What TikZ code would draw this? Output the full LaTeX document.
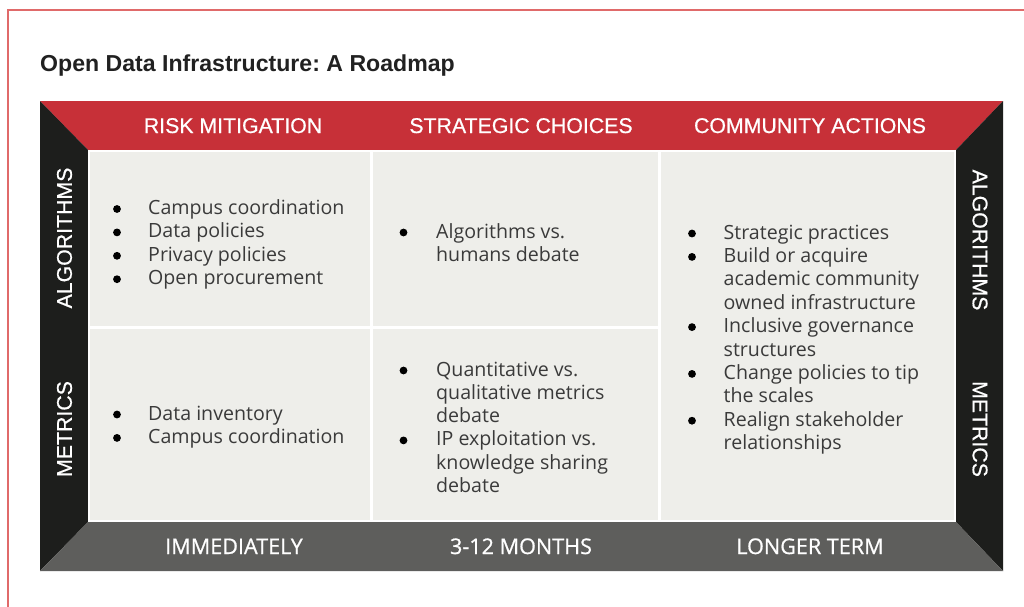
\documentclass[tikz,border=0pt]{standalone}
\usepackage{fontspec}
\setmainfont{Open Sans}
\newfontfamily\hdrfam[FakeBold=0.6]{Liberation Sans}
\newfontfamily\titlefam{Liberation Sans}
\newfontfamily\footfam[FakeBold=0.8]{Open Sans}
\newfontfamily\bodyfam{Open Sans}
\newcommand\mytitlefont{\titlefam\bfseries\fontsize{23.1}{26}\selectfont}
\newcommand\myhdrfont{\hdrfam\fontsize{21.3}{24}\selectfont}
\newcommand\myfootfont{\footfam\fontsize{21.6}{24}\selectfont}
\newcommand\mybodyfont{\bodyfam\fontsize{19.6}{23.4}\selectfont}
\frenchspacing
\definecolor{hdrred}{HTML}{C73038}
\definecolor{sideblack}{HTML}{1D1E1C}
\definecolor{footgray}{HTML}{5E5E5C}
\definecolor{cellgray}{HTML}{EEEEEA}
\definecolor{borderred}{HTML}{E06A6A}
\definecolor{bodygray}{HTML}{3A3A3A}
\definecolor{titleblack}{HTML}{212121}
\tikzset{
  titletext/.style={font=\mytitlefont, text=titleblack, inner sep=0pt, anchor=base west},
  hdr/.style={font=\myhdrfont, text=white, inner sep=0pt},
  foot/.style={font=\myfootfont, text=white, inner sep=0pt, anchor=base},
  body/.style={font=\mybodyfont, text=bodygray, inner sep=0pt, anchor=base west},
  dot/.style={circle, fill=black, minimum size=7.8pt, inner sep=0pt},
  cellbox/.style={fill=cellgray},
}
\begin{document}
\begin{tikzpicture}[x=1pt,y=-1pt]
\useasboundingbox (0,0) rectangle (1024,606);
\fill[white] (0,0) rectangle (1024,606);
\draw[line width=2pt, draw=borderred] (8,10) rectangle (1040,630);
\node[titletext] (title) at (40,71) {Open Data Infrastructure: A Roadmap};
% frame
\fill[hdrred] (40,101) -- (1003,101) -- (956,150) -- (88,150) -- cycle;
\fill[sideblack] (40,101) -- (88,150) -- (88,522) -- (40,571) -- cycle;
\fill[sideblack] (1003,101) -- (956,150) -- (956,522) -- (1003,571) -- cycle;
\fill[footgray] (88,522) -- (956,522) -- (1003,571) -- (40,571) -- cycle;
\fill[white] (88,150) rectangle (956,522);
\fill[cellbox] (90,152) rectangle (370,325.5);
\fill[cellbox] (373,152) rectangle (658,325.5);
\fill[cellbox] (90,328.5) rectangle (370,520);
\fill[cellbox] (373,328.5) rectangle (658,520);
\fill[cellbox] (661,152) rectangle (954,520);
% headers
\node[hdr, anchor=base] (h1) at (233,133) {RISK MITIGATION};
\node[hdr, anchor=base] (h2) at (521,133) {STRATEGIC CHOICES};
\node[hdr, anchor=base] (h3) at (810,133) {COMMUNITY ACTIONS};
\node[foot] (f1) at (234,554) {IMMEDIATELY};
\node[foot] (f2) at (521,554) {3-12 MONTHS};
\node[foot] (f3) at (810,554) {LONGER TERM};
\node[hdr, rotate=90] (l1) at (64.5,238) {ALGORITHMS};
\node[hdr, rotate=90] (l2) at (64.5,429) {METRICS};
\node[hdr, rotate=-90] (r1) at (980,240) {ALGORITHMS};
\node[hdr, rotate=-90] (r2) at (980,429) {METRICS};
% cell 1
\foreach \t [count=\i] in {Campus coordination, Data policies, Privacy policies, Open procurement}{
  \node[body] (a\i) at (148,{214.5+(\i-1)*23.4}) {\t};
  \node[dot] (ab\i) at (117,{209+(\i-1)*23.4}) {};
}
% cell 2
\node[body] (b1) at (436,238) {Algorithms vs.};
\node[body] (b2) at (436,261.4) {humans debate};
\node[dot] (bb1) at (403.5,232.5) {};
% cell 3
\node[body] (c1) at (148,420) {Data inventory};
\node[body] (c2) at (148,443.4) {Campus coordination};
\node[dot] (cb1) at (117,414.5) {};
\node[dot] (cb2) at (117,437.9) {};
% cell 4
\foreach \t [count=\i] in {Quantitative vs., qualitative metrics, debate, IP exploitation vs., knowledge sharing, debate}{
  \node[body] (d\i) at (436,{376+(\i-1)*23.3}) {\t};
}
\node[dot] (db1) at (403.5,370.5) {};
\node[dot] (db2) at (403.5,440.4) {};
% cell 5
\foreach \t [count=\i] in {Strategic practices, Build or acquire, academic community, owned infrastructure, Inclusive governance, structures, Change policies to tip, the scales, Realign stakeholder, relationships}{
  \node[body] (e\i) at (723.5,{239+(\i-1)*23.4}) {\t};
}
\node[dot] (eb1) at (692,233.5) {};
\node[dot] (eb2) at (692,256.9) {};
\node[dot] (eb3) at (692,327.1) {};
\node[dot] (eb4) at (692,373.9) {};
\node[dot] (eb5) at (692,420.7) {};
\end{tikzpicture}
\end{document}
